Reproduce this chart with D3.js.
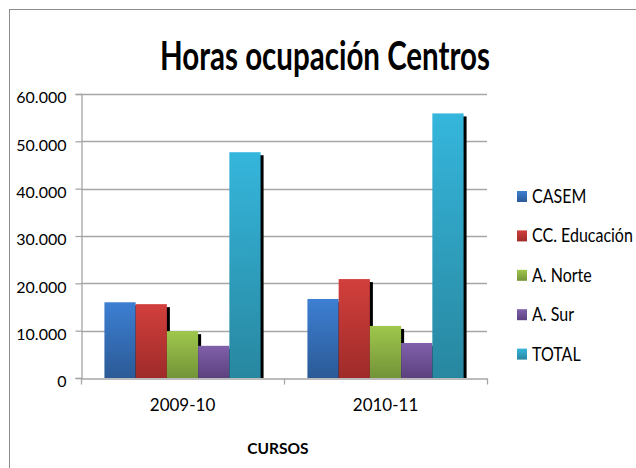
<!DOCTYPE html>
<html>
<head>
<meta charset="utf-8">
<script src="https://cdn.jsdelivr.net/npm/d3@7"></script>
<style>
  body { margin: 0; background: #fff; }
  svg { display: block; }
  .tick text { font-family: Lato, sans-serif; fill: #000; }
</style>
</head>
<body>
<div id="chart"></div>
<script>
// data
const cursos = ['2009-10', '2010-11'];
const centros = ['CASEM', 'CC. Educación', 'A. Norte', 'A. Sur', 'TOTAL'];
const casem = [16000, 16700];
const ccEducacion = [15600, 20900];
const aNorte = [9900, 11000];
const aSur = [6800, 7400];
const total = [47700, 55900];
const yTicks = [0, 10000, 20000, 30000, 40000, 50000, 60000];

const series = [casem, ccEducacion, aNorte, aSur, total];
// top / bottom gradient colours per series
const colours = [
  ['#3d7fd3', '#2b5a96'],
  ['#d23f3c', '#9e2b29'],
  ['#9fc74c', '#739338'],
  ['#8060ab', '#5c417e'],
  ['#35b6dc', '#2887a0']
];

const width = 636, height = 468;
const plot = {left: 81, right: 487, top: 94, bottom: 378};

const svg = d3.select('#chart').append('svg')
  .attr('width', width)
  .attr('height', height);

// gradients
const defs = svg.append('defs');
colours.forEach((c, i) => {
  const g = defs.append('linearGradient')
    .attr('id', 'grad' + i)
    .attr('x1', 0).attr('y1', 0).attr('x2', 0).attr('y2', 1);
  g.append('stop').attr('offset', '0%').attr('stop-color', c[0]);
  g.append('stop').attr('offset', '100%').attr('stop-color', c[1]);
});

// chart frame
svg.append('rect')
  .attr('x', 9.5).attr('y', 9.5)
  .attr('width', width).attr('height', height)
  .attr('fill', 'none')
  .attr('stroke', '#8c8c8c');

// scales
const x0 = d3.scaleBand()
  .domain(cursos)
  .range([plot.left, plot.right]);

// gap between groups = 1.5 bar widths (Excel gap width 150%)
const gap = 1.5 / (centros.length + 1.5) / 2;
const x1 = d3.scaleBand()
  .domain(centros)
  .range([x0.bandwidth() * gap, x0.bandwidth() * (1 - gap)]);

const y = d3.scaleLinear()
  .domain([0, 60000])
  .range([plot.bottom, plot.top]);

// gridlines
svg.append('g')
  .selectAll('line')
  .data(yTicks.slice(1))
  .join('line')
  .attr('x1', plot.left).attr('x2', plot.right)
  .attr('y1', d => Math.round(y(d)) + 0.5)
  .attr('y2', d => Math.round(y(d)) + 0.5)
  .attr('stroke', '#a6a6a6')
  .attr('stroke-width', 1.3);

// y axis
const fmt = d => d === 0 ? '0' : d3.format(',')(d).replace(/,/g, '.');
const yAxis = svg.append('g')
  .attr('transform', `translate(${plot.left + 0.5},0)`)
  .call(d3.axisLeft(y).tickValues(yTicks).tickFormat(fmt).tickSize(6).tickPadding(9));
yAxis.select('.domain').attr('stroke', '#a6a6a6').attr('stroke-width', 1.3);
yAxis.selectAll('.tick line').attr('stroke', '#a6a6a6').attr('stroke-width', 1.3);
yAxis.selectAll('.tick text').attr('font-size', 16).attr('dy', '0.55em');

// bars, each series drawn with its own shadow first
const barsG = svg.append('g');
series.forEach((vals, si) => {
  const g = barsG.append('g');
  g.selectAll('rect.shadow')
    .data(vals)
    .join('rect')
    .classed('shadow', true)
    .attr('x', (d, i) => x0(cursos[i]) + x1(centros[si]) + 3)
    .attr('y', d => y(d) + 3)
    .attr('width', x1.bandwidth())
    .attr('height', d => plot.bottom - y(d) - 3)
    .attr('fill', '#000');
  g.selectAll('rect.bar')
    .data(vals)
    .join('rect')
    .classed('bar', true)
    .attr('x', (d, i) => x0(cursos[i]) + x1(centros[si]))
    .attr('y', d => y(d))
    .attr('width', x1.bandwidth())
    .attr('height', d => plot.bottom - y(d))
    .attr('fill', `url(#grad${si})`);
});

// x axis
const xAxis = svg.append('g')
  .attr('transform', `translate(0,${plot.bottom + 0.5})`)
  .call(d3.axisBottom(x0).tickSize(0).tickPadding(20));
xAxis.select('.domain').attr('stroke', '#a6a6a6').attr('stroke-width', 1.3);
xAxis.selectAll('.tick text').attr('font-size', 17);
xAxis.selectAll('line.sep')
  .data([plot.left, ...cursos.map(c => x0(c) + x0.bandwidth())])
  .join('line')
  .classed('sep', true)
  .attr('x1', d => d + 0.5).attr('x2', d => d + 0.5)
  .attr('y1', 0).attr('y2', 6)
  .attr('stroke', '#a6a6a6')
  .attr('stroke-width', 1.3);

// axis title
svg.append('text')
  .attr('x', 278).attr('y', 454)
  .attr('text-anchor', 'middle')
  .attr('font-family', 'Lato, sans-serif')
  .attr('font-weight', 'bold')
  .attr('font-size', 15.5)
  .text('CURSOS');

// chart title, condensed to the reference width
const title = svg.append('text')
  .attr('x', 160).attr('y', 69.5)
  .attr('font-family', 'Lato, sans-serif')
  .attr('font-weight', 'bold')
  .attr('font-size', 41)
  .text('Horas ocupación Centros');
title.attr('textLength', 330).attr('lengthAdjust', 'spacingAndGlyphs');

// legend
const legend = svg.append('g');
const rows = legend.selectAll('g')
  .data(centros)
  .join('g')
  .attr('transform', (d, i) => `translate(517,${203 + i * 39.4})`);
rows.append('rect')
  .attr('x', 0).attr('y', -12)
  .attr('width', 10).attr('height', 11)
  .attr('fill', (d, i) => `url(#grad${i})`);
rows.append('text')
  .attr('transform', 'translate(15,0) scale(0.87,1)')
  .attr('font-family', 'Lato, sans-serif')
  .attr('font-size', 18.4)
  .text(d => d);
</script>
</body>
</html>
